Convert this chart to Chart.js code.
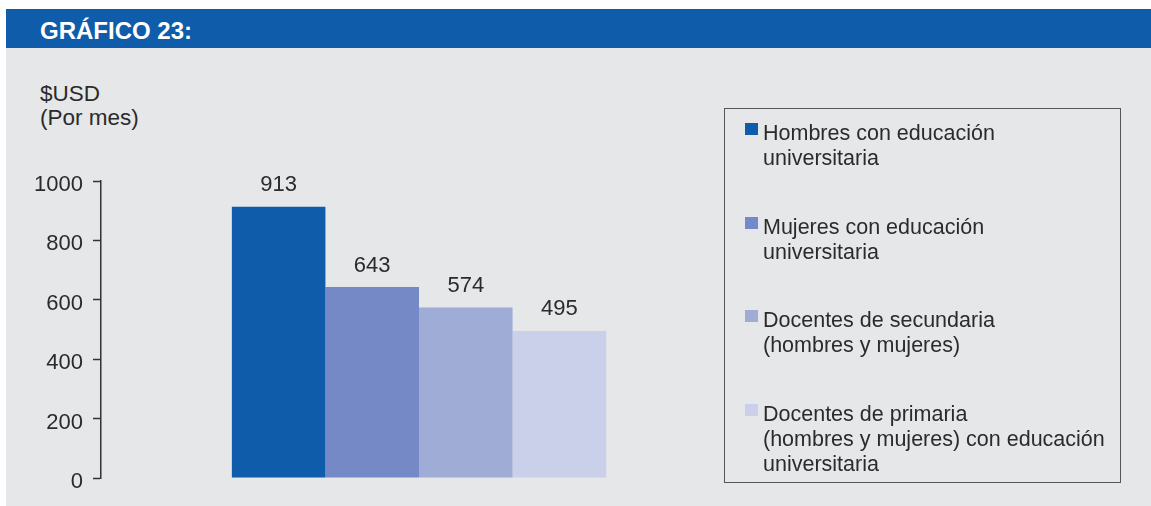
<!DOCTYPE html>
<html lang="es">
<head>
<meta charset="utf-8">
<title>Gráfico 23</title>
<script src="https://cdn.jsdelivr.net/npm/chart.js@4/dist/chart.umd.min.js"></script>
<style>
  html, body { margin: 0; padding: 0; background: #fff; }
  body { width: 1151px; height: 506px; position: relative; overflow: hidden;
         font-family: "Liberation Sans", Arial, sans-serif; color: #2b2b2b; }
  .panel { position: absolute; left: 6px; top: 9px; right: 0; bottom: 0; background: #e6e7e9; }
  .header { position: absolute; left: 6px; top: 9px; right: 0; height: 39px; background: #0f5cab; }
  .header span { position: absolute; left: 34px; top: 9px; font-weight: bold; font-size: 24px;
                 line-height: 26px; color: #fff; }
  .ytitle { position: absolute; left: 40px; top: 82px; font-size: 22.5px; line-height: 24px; }
  #chart-wrap { position: absolute; left: 0; top: 0; width: 1151px; height: 506px; }
  .legend { position: absolute; left: 724px; top: 108px; width: 395px; height: 361px;
            border: 1px solid #555; padding-top: 12px; box-sizing: content-box; }
  .legend__item { position: relative; height: 93.5px; padding-left: 38px;
                  font-size: 21.5px; line-height: 25px; }
  .legend__swatch { position: absolute; left: 20px; top: 2px; width: 13px; height: 12px; }
</style>
</head>
<body>
<div class="panel"></div>
<div class="header"><span>GRÁFICO 23:</span></div>
<div class="ytitle">$USD<br>(Por mes)</div>
<div id="chart-wrap"><canvas id="salary-chart"></canvas></div>
<div class="legend" id="legend"></div>

<script>
// Salario mensual promedio (USD)
const seriesLabels = [
  ['Hombres con educación', 'universitaria'],
  ['Mujeres con educación', 'universitaria'],
  ['Docentes de secundaria', '(hombres y mujeres)'],
  ['Docentes de primaria', '(hombres y mujeres) con educación', 'universitaria']
];
const seriesValues = [913, 643, 574, 495];
const seriesColors = ['#0f5cab', '#7489c6', '#9eacd6', '#cacfea'];
const yTicks = [0, 200, 400, 600, 800, 1000];

const TEXT = '#2b2b2b';
const FONT = '"Liberation Sans", Arial, sans-serif';

// numbers printed over each bar
const valueLabels = {
  id: 'valueLabels',
  afterDatasetsDraw(chart) {
    const ctx = chart.ctx;
    ctx.save();
    ctx.fillStyle = TEXT;
    ctx.font = '22px ' + FONT;
    ctx.textAlign = 'center';
    ctx.textBaseline = 'alphabetic';
    chart.data.datasets.forEach((ds, i) => {
      chart.getDatasetMeta(i).data.forEach((bar, j) => {
        ctx.fillText(String(ds.data[j]), bar.x, bar.y - 15.5);
      });
    });
    ctx.restore();
  }
};

new Chart(document.getElementById('salary-chart'), {
  type: 'bar',
  data: {
    labels: [''],
    datasets: seriesValues.map((v, i) => ({
      label: seriesLabels[i].join(' '),
      data: [v],
      backgroundColor: seriesColors[i],
      borderWidth: 0
    }))
  },
  options: {
    responsive: true,
    maintainAspectRatio: false,
    animation: false,
    datasets: { bar: { barPercentage: 1, categoryPercentage: 0.5885 } },
    layout: { padding: { left: 0, top: 181, right: 414, bottom: 28 } },
    plugins: { legend: { display: false }, tooltip: { enabled: false } },
    scales: {
      x: { display: false },
      y: {
        min: yTicks[0],
        max: yTicks[yTicks.length - 1],
        afterFit: s => { s.width = 101; },
        afterBuildTicks: s => { s.ticks = yTicks.map(v => ({ value: v })); },
        ticks: { color: TEXT, padding: 10, labelOffset: 4, font: { family: FONT, size: 22 }, callback: v => String(v) },
        grid: { drawOnChartArea: false, drawTicks: true, tickLength: 8, tickColor: '#333', tickWidth: 1.5 },
        border: { display: true, color: '#333', width: 1.5 }
      }
    }
  },
  plugins: [valueLabels]
});

// legend box
const legendEl = document.getElementById('legend');
seriesLabels.forEach((lines, i) => {
  const item = document.createElement('div');
  item.className = 'legend__item';
  item.innerHTML = '<span class="legend__swatch" style="background:' + seriesColors[i] + '"></span>' +
    lines.join('<br>');
  legendEl.appendChild(item);
});
</script>
</body>
</html>
